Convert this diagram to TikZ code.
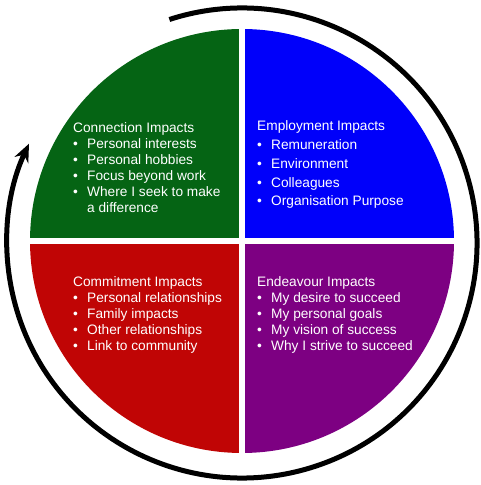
\documentclass[tikz,border=0pt]{standalone}
\usepackage{fontspec}
\setmainfont{Liberation Sans}
\usepackage{array}
\usetikzlibrary{arrows.meta}

\definecolor{conngreen}{RGB}{5,100,20}
\definecolor{emplblue}{RGB}{0,0,250}
\definecolor{commred}{RGB}{192,5,5}
\definecolor{endpurple}{RGB}{125,0,130}

\tikzset{
    impact/.style={anchor=base west, inner sep=0pt, text=white,
        font=\fontsize{13.7}{16}\selectfont}
}

\begin{document}
\begin{tikzpicture}[x=1pt, y=1pt]
    \useasboundingbox (0, 0) rectangle (480, 485);

    % Four quadrants cut from one circle
    \begin{scope}[shift={(242, 244)}]
        \clip (0, 0) circle (212);
        \fill[conngreen] (-220, 3) rectangle (-3, 220);
        \fill[emplblue] (3, 3) rectangle (220, 220);
        \fill[commred] (-220, -3) rectangle (-3, -220);
        \fill[endpurple] (3, -3) rectangle (220, -220);
    \end{scope}

    % Cycle arrow round the circle
    \draw[line width=5pt, -{Stealth[length=18pt, width=15pt]}]
        (242, 242) ++(108:235) arc[start angle=108, end angle=-205, radius=235];

    % Texts
    \node[impact] (conn) at (73, 352) {%
        \begin{tabular}[t]{@{}p{14pt}@{}l@{}}
            \multicolumn{2}{@{}l@{}}{Connection Impacts}\\
            \textbullet & Personal interests\\
            \textbullet & Personal hobbies\\
            \textbullet & Focus beyond work\\
            \textbullet & Where I seek to make\\
                        & a difference
        \end{tabular}};
    \node[impact] (empl) at (257, 354) {%
        \begin{tabular}[t]{@{}p{14pt}@{}l@{}}
            \multicolumn{2}{@{}l@{}}{Employment Impacts}\\[3pt]
            \textbullet & Remuneration\\[3pt]
            \textbullet & Environment\\[3pt]
            \textbullet & Colleagues\\[2pt]
            \textbullet & Organisation Purpose
        \end{tabular}};
    \node[impact] (comm) at (73, 198) {%
        \begin{tabular}[t]{@{}p{14pt}@{}l@{}}
            \multicolumn{2}{@{}l@{}}{Commitment Impacts}\\
            \textbullet & Personal relationships\\
            \textbullet & Family impacts\\
            \textbullet & Other relationships\\
            \textbullet & Link to community
        \end{tabular}};
    \node[impact] (endv) at (257, 198) {%
        \begin{tabular}[t]{@{}p{14pt}@{}l@{}}
            \multicolumn{2}{@{}l@{}}{Endeavour Impacts}\\
            \textbullet & My desire to succeed\\
            \textbullet & My personal goals\\
            \textbullet & My vision of success\\
            \textbullet & Why I strive to succeed
        \end{tabular}};
\end{tikzpicture}
\end{document}
